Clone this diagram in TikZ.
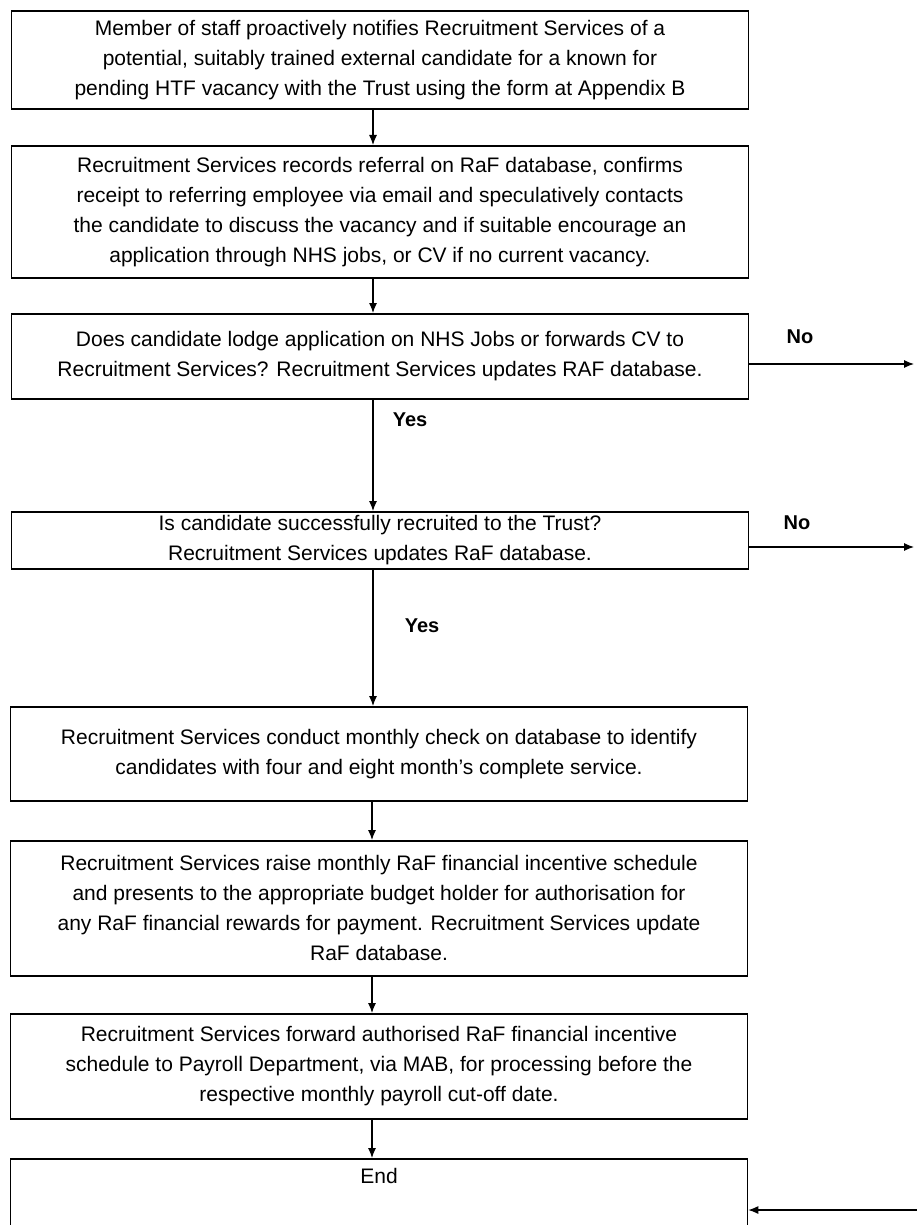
\documentclass[tikz,border=0pt]{standalone}
\usepackage{fontspec}
\setmainfont{Liberation Sans}
\usetikzlibrary{positioning,arrows.meta}

\begin{document}
\begin{tikzpicture}
        [x=1pt,y=-1pt,->,>={Latex[length=10pt,width=8pt]},line width=1.1pt,
        box/.style={rectangle,draw,line width=1.6pt,text centered,align=center,anchor=north,
            minimum width=737pt,inner sep=0pt,font=\fontsize{21}{30}\selectfont},
        lab/.style={font=\bfseries\fontsize{20}{22}\selectfont}]
    \useasboundingbox (0,0) rectangle (917,1225);

    \node[box,minimum height=98pt] (notify) at (380,10)
        {Member of staff proactively notifies Recruitment Services of a\\
         potential, suitably trained external candidate for a known for\\
         pending HTF vacancy with the Trust using the form at Appendix B};
    \node[box,minimum height=132pt] (record) at (380,145)
        {Recruitment Services records referral on RaF database, confirms\\
         receipt to referring employee via email and speculatively contacts\\
         the candidate to discuss the vacancy and if suitable encourage an\\
         application through NHS jobs, or CV if no current vacancy.};
    \node[box,minimum height=85pt] (lodge) at (380,313)
        {Does candidate lodge application on NHS Jobs or forwards CV to\\
         Recruitment Services? Recruitment Services updates RAF database.};
    \node[box,minimum height=57pt] (recruited) at (380,511)
        {Is candidate successfully recruited to the Trust?\\
         Recruitment Services updates RaF database.};
    \node[box,minimum height=94pt] (check) at (379,706)
        {Recruitment Services conduct monthly check on database to identify\\
         candidates with four and eight month's complete service.};
    \node[box,minimum height=135pt] (schedule) at (379,840)
        {Recruitment Services raise monthly RaF financial incentive schedule\\
         and presents to the appropriate budget holder for authorisation for\\
         any RaF financial rewards for payment. Recruitment Services update\\
         RaF database.};
    \node[box,minimum height=105pt] (forward) at (379,1013)
        {Recruitment Services forward authorised RaF financial incentive\\
         schedule to Payroll Department, via MAB, for processing before the\\
         respective monthly payroll cut-off date.};
    \node[box,inner ysep=10pt,text height=15pt,text depth=60pt] (finish) at (379,1158) {End};

    % labels on the branches
    \node[lab] (nolodge) at (800,337) {No};
    \node[lab] (yeslodge) at (410,420) {Yes};
    \node[lab] (norecruit) at (797,523) {No};
    \node[lab] (yesrecruit) at (422,626) {Yes};

    \foreach \a/\b in {notify/record,record/lodge,lodge/recruited,recruited/check,
            check/schedule,schedule/forward,forward/finish}
        \draw ([xshift=-7pt]\a.south) -- ([xshift=-7pt]\a.south |- \b.north);

    \coordinate (nolodgeend) at (914,364);
    \coordinate (norecruitend) at (914,547);
    \coordinate (backin) at (917,1210);
    \draw (nolodgeend -| lodge.east) -- (nolodgeend);
    \draw (norecruitend -| recruited.east) -- (norecruitend);
    \draw (backin) -- (backin -| finish.east);
\end{tikzpicture}
\end{document}
